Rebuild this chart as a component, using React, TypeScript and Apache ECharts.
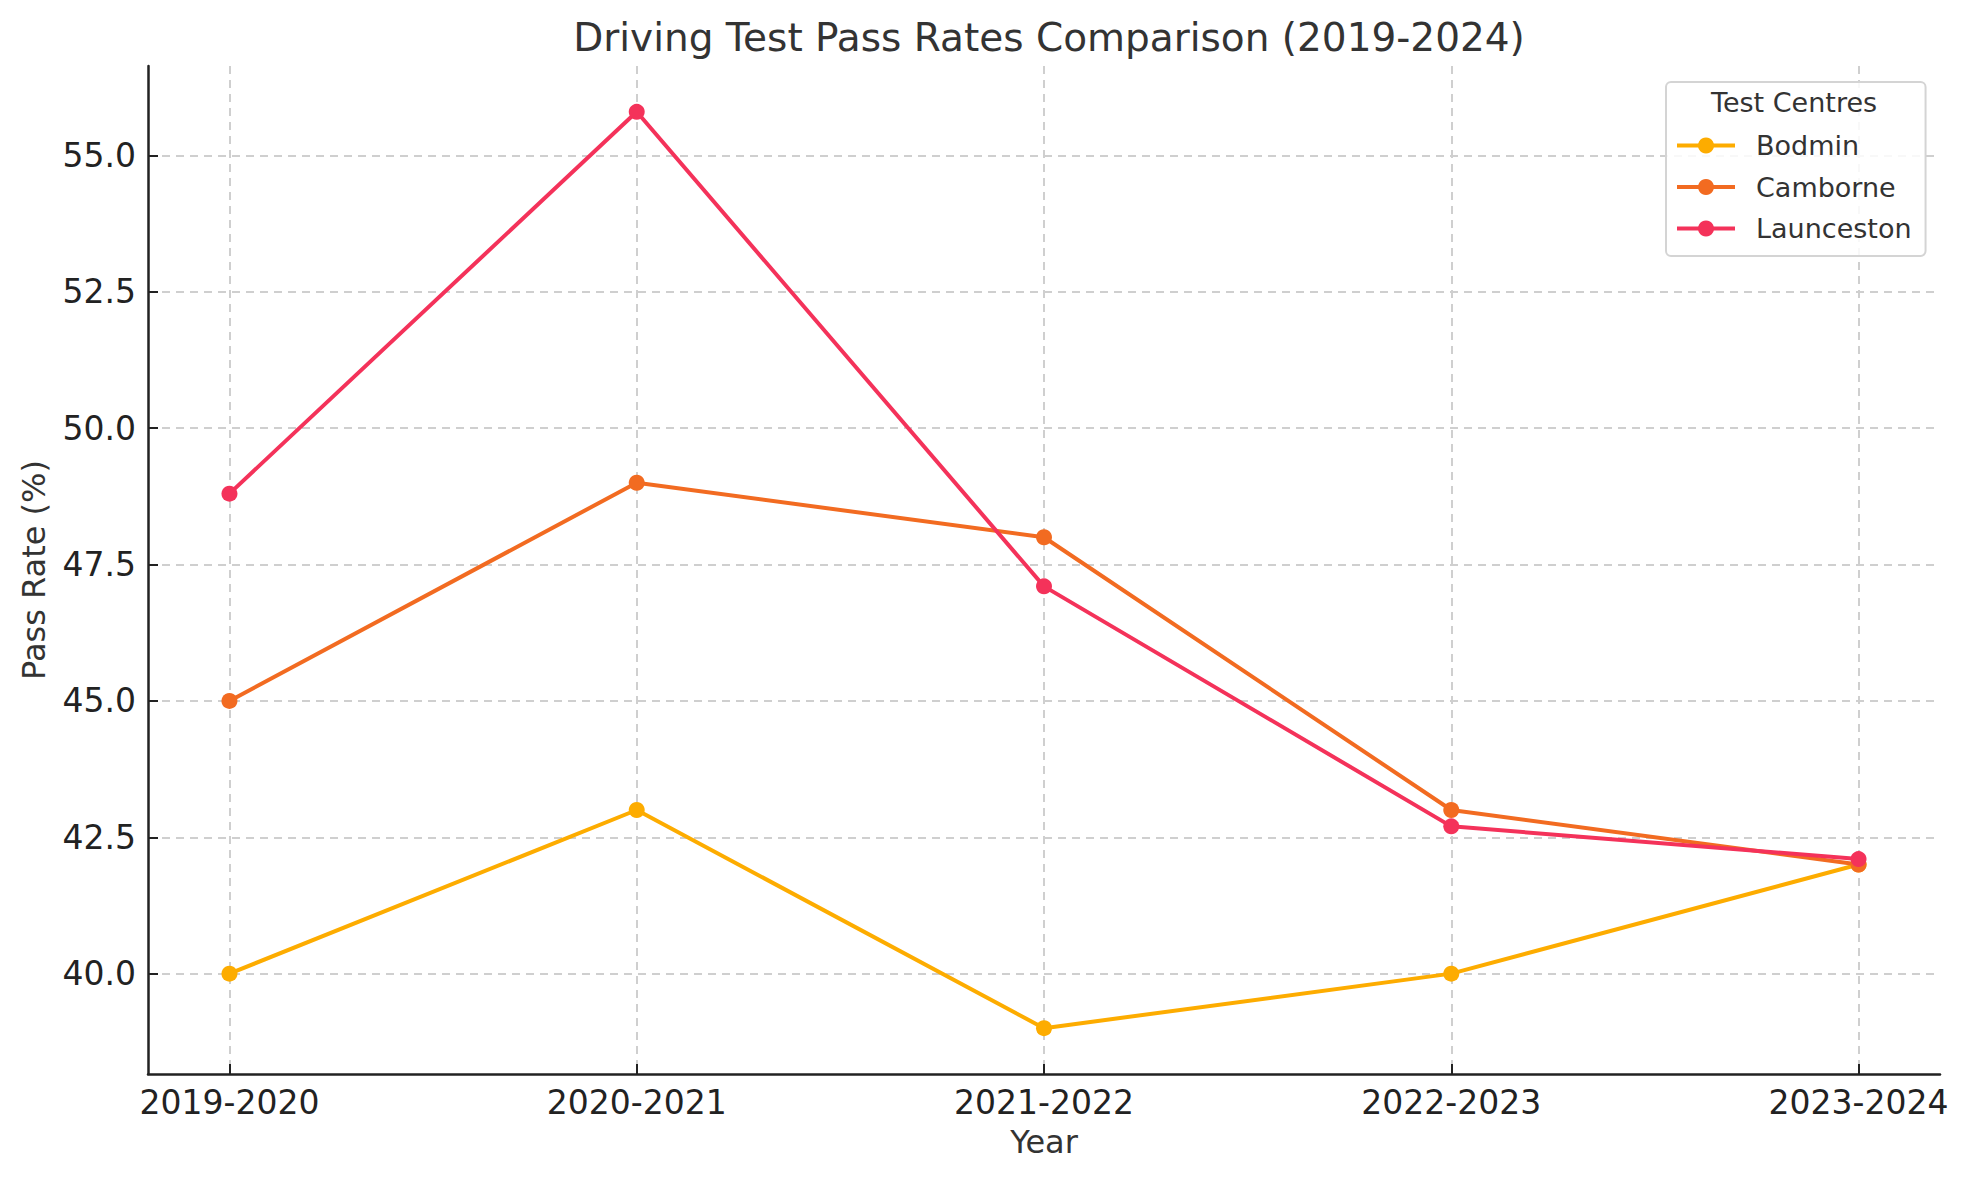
import React, { useEffect, useRef } from "react";
import * as echarts from "echarts";

const years = ["2019-2020", "2020-2021", "2021-2022", "2022-2023", "2023-2024"];
const bodmin = [40.0, 43.0, 39.0, 40.0, 42.0];
const camborne = [45.0, 49.0, 48.0, 43.0, 42.0];
const launceston = [48.8, 55.8, 47.1, 42.7, 42.1];
const yTicks = [40.0, 42.5, 45.0, 47.5, 50.0, 52.5, 55.0];
const xTicks = [0, 1, 2, 3, 4];
const seriesNames = ["Bodmin", "Camborne", "Launceston"];
const seriesColors = ["#FDAC00", "#F26B21", "#F4325A"];

const FONT = "DejaVu Sans";

export default function App() {
  const ref = useRef<HTMLDivElement>(null);

  useEffect(() => {
    if (!ref.current) return;
    const chart = echarts.init(ref.current, null, { renderer: "svg" });
    const allData = [bodmin, camborne, launceston];
    const allVals = allData.flat();
    const dmin = Math.min(...allVals);
    const dmax = Math.max(...allVals);
    const pad = (dmax - dmin) * 0.05;

    const series = allData.map((arr, k) => ({
      name: seriesNames[k],
      type: "line",
      data: arr.map((v, i) => [i, v]),
      symbol: "circle",
      symbolSize: 16,
      showSymbol: true,
      lineStyle: { width: 4, color: seriesColors[k] },
      itemStyle: { color: seriesColors[k] },
      z: 2 + k,
    }));

    chart.setOption({
      animation: false,
      backgroundColor: "#ffffff",
      textStyle: { fontFamily: FONT },
      title: {
        text: "Driving Test Pass Rates Comparison (2019-2024)",
        left: 1044,
        top: 13,
        textAlign: "center",
        textStyle: { fontFamily: FONT, fontSize: 39, fontWeight: "normal", color: "#333333" },
      },
      grid: { left: 148, right: 29, top: 66, bottom: 106, containLabel: false },
      xAxis: {
        type: "value",
        min: -0.2,
        max: 4.2,
        name: "Year",
        nameLocation: "middle",
        nameGap: 52,
        nameTextStyle: { fontFamily: FONT, fontSize: 32, color: "#333333" },
        axisLine: { show: true, onZero: false, lineStyle: { color: "#222222", width: 2.5 } },
        axisTick: { show: true, inside: true, length: 10, customValues: xTicks, lineStyle: { color: "#222222", width: 2 } },
        axisLabel: {
          customValues: xTicks,
          margin: 12,
          fontFamily: FONT,
          fontSize: 33,
          color: "#222222",
          formatter: (v: number) => years[Math.round(v)] ?? "",
        },
        splitLine: { show: true, customValues: xTicks, lineStyle: { color: "#cfcfcf", width: 2, type: [8, 6] } },
      },
      yAxis: {
        type: "value",
        min: dmin - pad,
        max: dmax + pad,
        name: "Pass Rate (%)",
        nameLocation: "middle",
        nameGap: 98,
        nameTextStyle: { fontFamily: FONT, fontSize: 32, color: "#333333" },
        axisLine: { show: true, onZero: false, lineStyle: { color: "#222222", width: 2.5 } },
        axisTick: { show: true, inside: true, length: 10, customValues: yTicks, lineStyle: { color: "#222222", width: 2 } },
        axisLabel: {
          customValues: yTicks,
          margin: 12,
          fontFamily: FONT,
          fontSize: 33,
          color: "#222222",
          formatter: (v: number) => v.toFixed(1),
        },
        splitLine: { show: true, customValues: yTicks, lineStyle: { color: "#cfcfcf", width: 2, type: [8, 6] } },
      },
      legend: {
        data: seriesNames,
        orient: "vertical",
        left: 1666,
        top: 82,
        padding: [50, 14, 14, 9],
        itemWidth: 58,
        itemHeight: 20,
        itemGap: 14.5,
        backgroundColor: "rgba(255,255,255,0.85)",
        borderColor: "#d4d4d4",
        borderWidth: 2,
        borderRadius: 5,
        lineStyle: { width: 4 },
        textStyle: { fontFamily: FONT, fontSize: 27, color: "#333333", lineHeight: 27, padding: [0, 0, 0, 16] },
      },
      graphic: [
        {
          type: "text",
          left: 1796 - 85,
          top: 89,
          z: 100,
          style: { text: "Test Centres", font: `27px "${FONT}"`, fill: "#333333" },
        },
      ],
      series,
    });
    return () => chart.dispose();
  }, []);

  return (
    <div
      ref={ref}
      style={{ position: "fixed", left: 0, top: 0, width: 1969, height: 1180, background: "#fff" }}
    />
  );
}
